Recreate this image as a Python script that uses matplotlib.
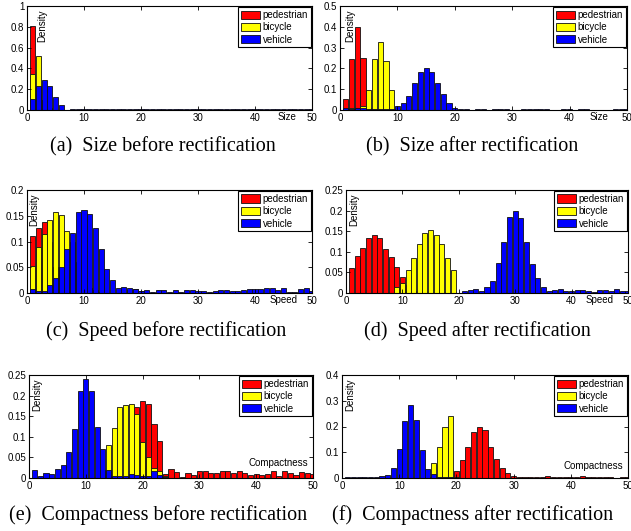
import numpy as np
import matplotlib
matplotlib.use("Agg")
import matplotlib.pyplot as plt
from matplotlib.ticker import FuncFormatter

plt.rcParams["font.family"] = ["Liberation Sans", "DejaVu Sans"]

W, H = 631, 531
bins = np.arange(1, 51)
names = ["pedestrian", "bicycle", "vehicle"]
colors = ["#ff0000", "#ffff00", "#0000ff"]


def pad(vals):
    """fill to 50 bins with zeros"""
    return list(vals) + [0.0] * (50 - len(vals))


# (a) size before rectification
ped_a = pad([0.81, 0.15, 0.02])
bic_a = pad([0.345, 0.52, 0.10, 0.02])
veh_a = [0.11, 0.23, 0.29, 0.23, 0.125, 0.05, 0.0, 0.01, 0.01, 0.01, 0.01, 0.01, 0.012, 0.005,
         0.005, 0.005, 0.005, 0.005, 0.01, 0.005, 0.01, 0.012, 0.005, 0.01, 0.01, 0.012, 0.01,
         0.012, 0.005, 0.01, 0.005, 0.005, 0.005, 0.01, 0.01, 0.012, 0.005, 0.005, 0.01, 0.012,
         0.005, 0.012, 0.005, 0.005, 0.005, 0.008, 0.005, 0.01, 0.005, 0.005]

# (b) size after rectification
ped_b = pad([0.055, 0.245, 0.40, 0.25, 0.01])
bic_b = pad([0.0, 0.01, 0.01, 0.02, 0.095, 0.245, 0.325, 0.235, 0.095, 0.005])
veh_b = [0.008, 0.006, 0.008, 0.01, 0.004, 0.003, 0.005, 0.004, 0.004, 0.018, 0.035, 0.065,
         0.13, 0.185, 0.2, 0.185, 0.13, 0.075, 0.035, 0.012, 0.005, 0.006, 0.002, 0.006, 0.006,
         0.002, 0.004, 0.005, 0.006, 0.002, 0.002, 0.003, 0.004, 0.005, 0.005, 0.006, 0.002,
         0.002, 0.006, 0.003, 0.002, 0.007, 0.006, 0.002, 0.002, 0.002, 0.002, 0.004, 0.005, 0.006]

# (c) speed before rectification
ped_c = pad([0.11, 0.127, 0.138, 0.10, 0.05, 0.02])
bic_c = pad([0.053, 0.09, 0.114, 0.141, 0.158, 0.151, 0.12, 0.10, 0.06, 0.03, 0.01, 0.005,
             0.002, 0.0, 0.0, 0.0, 0.0, 0.005, 0.008, 0.003])
veh_c = [0.007, 0.003, 0.004, 0.015, 0.03, 0.05, 0.085, 0.117, 0.158, 0.162, 0.153, 0.126,
         0.085, 0.046, 0.026, 0.01, 0.011, 0.009, 0.007, 0.003, 0.006, 0.002, 0.005, 0.006,
         0.002, 0.005, 0.002, 0.006, 0.006, 0.004, 0.003, 0.002, 0.003, 0.006, 0.006, 0.004,
         0.004, 0.006, 0.008, 0.008, 0.008, 0.01, 0.009, 0.006, 0.009, 0.002, 0.002, 0.007,
         0.009, 0.003]

# (d) speed after rectification
ped_d = pad([0.06, 0.09, 0.11, 0.133, 0.14, 0.133, 0.107, 0.088, 0.062, 0.04, 0.02, 0.005])
bic_d = pad([0, 0, 0, 0, 0, 0, 0, 0, 0.015, 0.025, 0.055, 0.085, 0.12, 0.146, 0.152, 0.14,
             0.12, 0.085, 0.055])
veh_d = [0.0] * 20 + [0.005, 0.008, 0.01, 0.005, 0.015, 0.03, 0.072, 0.125, 0.185, 0.2, 0.183,
                      0.125, 0.07, 0.037, 0.015, 0.005, 0.007, 0.009, 0.004, 0.004, 0.008,
                      0.008, 0.006, 0.003, 0.007, 0.008, 0.004, 0.009, 0.004, 0.005]

# (e) compactness before rectification
ped_e = [0.0] * 18 + [0.172, 0.187, 0.18, 0.13, 0.09, 0.01, 0.022, 0.015, 0.003, 0.012, 0.007,
                      0.018, 0.017, 0.012, 0.011, 0.017, 0.016, 0.011, 0.016, 0.012, 0.007,
                      0.009, 0.007, 0.009, 0.016, 0.006, 0.018, 0.012, 0.008, 0.014, 0.012, 0.01]
bic_e = pad([0, 0, 0, 0, 0, 0, 0, 0, 0, 0, 0, 0, 0.02, 0.08, 0.122, 0.173, 0.178, 0.18, 0.155,
             0.088, 0.05, 0.025, 0.016, 0.005])
veh_e = pad([0.02, 0.005, 0.012, 0.01, 0.022, 0.032, 0.062, 0.12, 0.212, 0.24, 0.21, 0.123,
             0.07, 0.02, 0.005, 0.004, 0.005, 0.01, 0.008, 0.004, 0.005, 0.017, 0.008, 0.003])

# (f) compactness after rectification
ped_f = [0.0] * 19 + [0.028, 0.07, 0.12, 0.18, 0.2, 0.185, 0.12, 0.075, 0.038, 0.02, 0.008,
                      0.004, 0.004, 0.002, 0.003, 0.003, 0.006, 0.005, 0.002, 0.005, 0.002,
                      0.003, 0.006, 0.004, 0.002, 0.005, 0.004, 0.002, 0.001, 0.004, 0.004]
bic_f = pad([0] * 14 + [0.005, 0.058, 0.12, 0.2, 0.24, 0.005])
veh_f = pad([0.002, 0.002, 0.002, 0.002, 0.002, 0.002, 0.007, 0.01, 0.04, 0.113, 0.22, 0.285,
             0.225, 0.11, 0.035, 0.015, 0.005, 0.005, 0.003])

captions = ["(a)  Size before rectification", "(b)  Size after rectification",
            "(c)  Speed before rectification", "(d)  Speed after rectification",
            "(e)  Compactness before rectification", "(f)  Compactness after rectification"]

# panel setup: data, ymax, ystep, x-left, xlabel, xlabel pos (data x, axes-frac y), density x
panels = [
    ((ped_a, bic_a, veh_a), 1.0, 0.2, 0.3, "Size", (45.7, -0.07), 2.65),
    ((ped_b, bic_b, veh_b), 0.5, 0.1, 0.5, "Size", (45.2, -0.07), 1.7),
    ((ped_c, bic_c, veh_c), 0.2, 0.05, 0.3, "Speed", (45.0, -0.07), 1.35),
    ((ped_d, bic_d, veh_d), 0.25, 0.05, 0.0, "Speed", (45.0, -0.07), 1.5),
    ((ped_e, bic_e, veh_e), 0.25, 0.05, 0.0, "Compactness", (43.9, 0.15), 1.5),
    ((ped_f, bic_f, veh_f), 0.4, 0.1, 0.0, "Compactness", (43.9, 0.12), 1.45),
]
# axes rectangles in pixels: left, right, top, bottom
rects = [(27, 312, 6, 110), (340, 627, 6, 110),
         (27, 312, 190, 293), (346, 628, 190, 293),
         (29, 313, 375, 478), (342, 628, 375, 478)]
cap_xy = [(163, 147), (472, 147), (166, 331), (477, 331), (158, 515), (473, 515)]

fig = plt.figure(figsize=(W / 100, H / 100), dpi=100)

for (series, ymax, ystep, xlo, xlab, xlpos, dens_x), (l, r, t, b), cap, (cx, cy) in zip(
        panels, rects, captions, cap_xy):
    ax = fig.add_axes([l / W, 1 - b / H, (r - l) / W, (b - t) / H])
    for vals, name, col in zip(series, names, colors):
        ax.bar(bins, vals, width=0.9, color=col, edgecolor="#111111", linewidth=0.6, label=name)
    ax.set_xlim(xlo, 50)
    ax.set_ylim(0, ymax)
    ax.set_xticks(np.arange(0, 51, 10))
    ax.set_yticks(np.arange(0, ymax + ystep / 2, ystep))
    ax.yaxis.set_major_formatter(FuncFormatter(lambda v, p: f"{round(v, 3):g}"))
    ax.tick_params(direction="in", top=True, right=True, length=3, width=0.6,
                   labelsize=7, pad=2)
    for s in ax.spines.values():
        s.set_linewidth(0.8)
    ax.text(dens_x, 0.97, "Density", rotation=90, va="top", ha="center", fontsize=7,
            transform=ax.get_xaxis_transform())
    ax.text(xlpos[0], xlpos[1], xlab, ha="center", va="center", fontsize=7,
            transform=ax.get_xaxis_transform(), clip_on=False)
    leg = ax.legend(loc="upper right", fontsize=7, frameon=True, fancybox=False,
                    borderaxespad=0.15, borderpad=0.25, labelspacing=0.25,
                    handlelength=2.0, handleheight=0.9, handletextpad=0.25)
    leg.get_frame().set_edgecolor("black")
    leg.get_frame().set_linewidth(0.8)
    leg.get_frame().set_alpha(1)
    fig.text(cx / W, 1 - cy / H, cap, ha="center", va="center", fontsize=14.5,
             family=["Liberation Serif", "DejaVu Serif"])

fig.savefig("out.png", dpi=100)
